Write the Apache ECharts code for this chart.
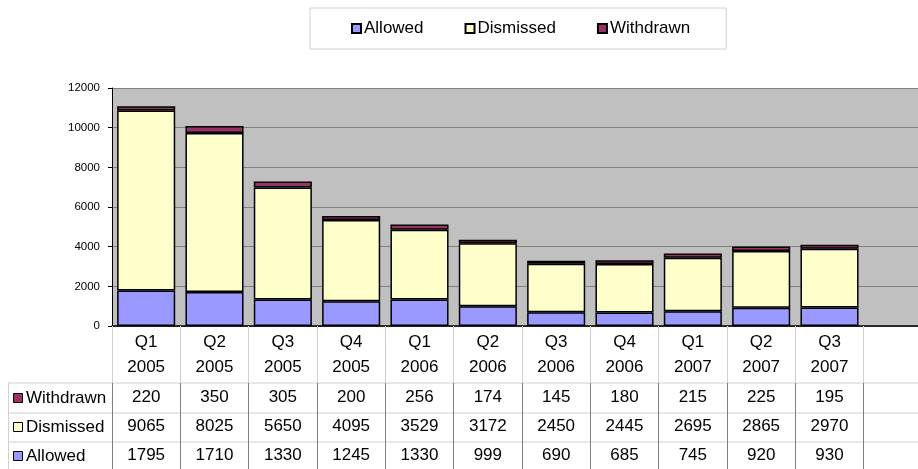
<!DOCTYPE html>
<html><head><meta charset="utf-8">
<script src="https://cdn.jsdelivr.net/npm/echarts@6/dist/echarts.min.js"></script>
<style>html,body{margin:0;padding:0;background:#fff;overflow:hidden}#c{width:932px;height:469px}</style>
</head><body><div id="c"></div>
<script>
const categories = ['Q1\n2005','Q2\n2005','Q3\n2005','Q4\n2005','Q1\n2006','Q2\n2006','Q3\n2006','Q4\n2006','Q1\n2007','Q2\n2007','Q3\n2007',''];
const allowed   = [1795,1710,1330,1245,1330,999,690,685,745,920,930];
const dismissed = [9065,8025,5650,4095,3529,3172,2450,2445,2695,2865,2970];
const withdrawn = [220,350,305,200,256,174,145,180,215,225,195];
const yTicks = [0,2000,4000,6000,8000,10000,12000];

const colors = {Allowed:'#9999FF', Dismissed:'#FFFFCC', Withdrawn:'#993366'};
const font = 'Liberation Sans, Arial, sans-serif';
const FS = 17;
const chart = echarts.init(document.getElementById('c'));

function rowAxis(vals, offset, showTicks){
  return {
    type:'category', gridIndex:0, position:'bottom', offset:offset,
    data: vals.map(String).concat(['']),
    axisLine:{show:false},
    axisTick:{show:showTicks, length:86, lineStyle:{color:'#808080', width:1}},
    axisLabel:{show:true, interval:0, margin:6, fontSize:FS, color:'#000', fontFamily:font}
  };
}
const rowLabels = [['Withdrawn',398],['Dismissed',427],['Allowed',456]];
const graphics = [];
[383,413,442].forEach(y=>graphics.push({type:'line',shape:{x1:8,y1:y,x2:932,y2:y},style:{stroke:'#d0d0d0',lineWidth:1}}));
graphics.push({type:'line',shape:{x1:8.5,y1:383,x2:8.5,y2:469},style:{stroke:'#d0d0d0',lineWidth:1}});
rowLabels.forEach(([n,y])=>{
  graphics.push({type:'rect',shape:{x:13.5,y:y-4.5,width:9,height:9},style:{fill:colors[n],stroke:'#000',lineWidth:1}});
  graphics.push({type:'text',x:26,y:y,style:{text:n,fontSize:FS,fontFamily:font,fill:'#000',verticalAlign:'middle'}});
});

chart.setOption({
  animation:false,
  backgroundColor:'#fff',
  legend:{
    left:310, top:8, padding:[12,36,12,41], itemGap:41,
    itemWidth:9, itemHeight:9, icon:'rect',
    borderColor:'#d0d0d0', borderWidth:1,
    textStyle:{fontSize:FS, color:'#000', fontFamily:font, padding:[0,0,0,-2]},
    data:['Allowed','Dismissed','Withdrawn']
  },
  grid:{left:112, top:88, bottom:143, right:0, show:true, backgroundColor:'#C0C0C0', borderWidth:0},
  xAxis:[
    {type:'category', data:categories,
     axisLine:{lineStyle:{color:'#000', width:1.5}},
     axisTick:{show:true, length:57, lineStyle:{color:'#d0d0d0', width:1}},
     axisLabel:{interval:0, margin:4, fontSize:FS, lineHeight:25, color:'#000', fontFamily:font}},
    rowAxis(withdrawn,57,true),
    rowAxis(dismissed,86,false),
    rowAxis(allowed,115,false)
  ],
  yAxis:{type:'value', min:yTicks[0], max:yTicks[yTicks.length-1], interval:2000,
    axisLine:{show:true, lineStyle:{color:'#000', width:1}},
    axisTick:{show:true, length:4, lineStyle:{color:'#000'}},
    splitLine:{lineStyle:{color:'#808080', width:1}},
    axisLabel:{fontSize:11.5, color:'#000', fontFamily:font, margin:12, formatter:v=>String(v)}},
  series:[
    {name:'Allowed', type:'bar', stack:'s', data:allowed, barCategoryGap:'15%',
     itemStyle:{color:colors.Allowed, borderColor:'#000', borderWidth:1.5}},
    {name:'Dismissed', type:'bar', stack:'s', data:dismissed,
     itemStyle:{color:colors.Dismissed, borderColor:'#000', borderWidth:1.5}},
    {name:'Withdrawn', type:'bar', stack:'s', data:withdrawn,
     itemStyle:{color:colors.Withdrawn, borderColor:'#000', borderWidth:1.5}}
  ],
  graphic:graphics
});
</script></body></html>
